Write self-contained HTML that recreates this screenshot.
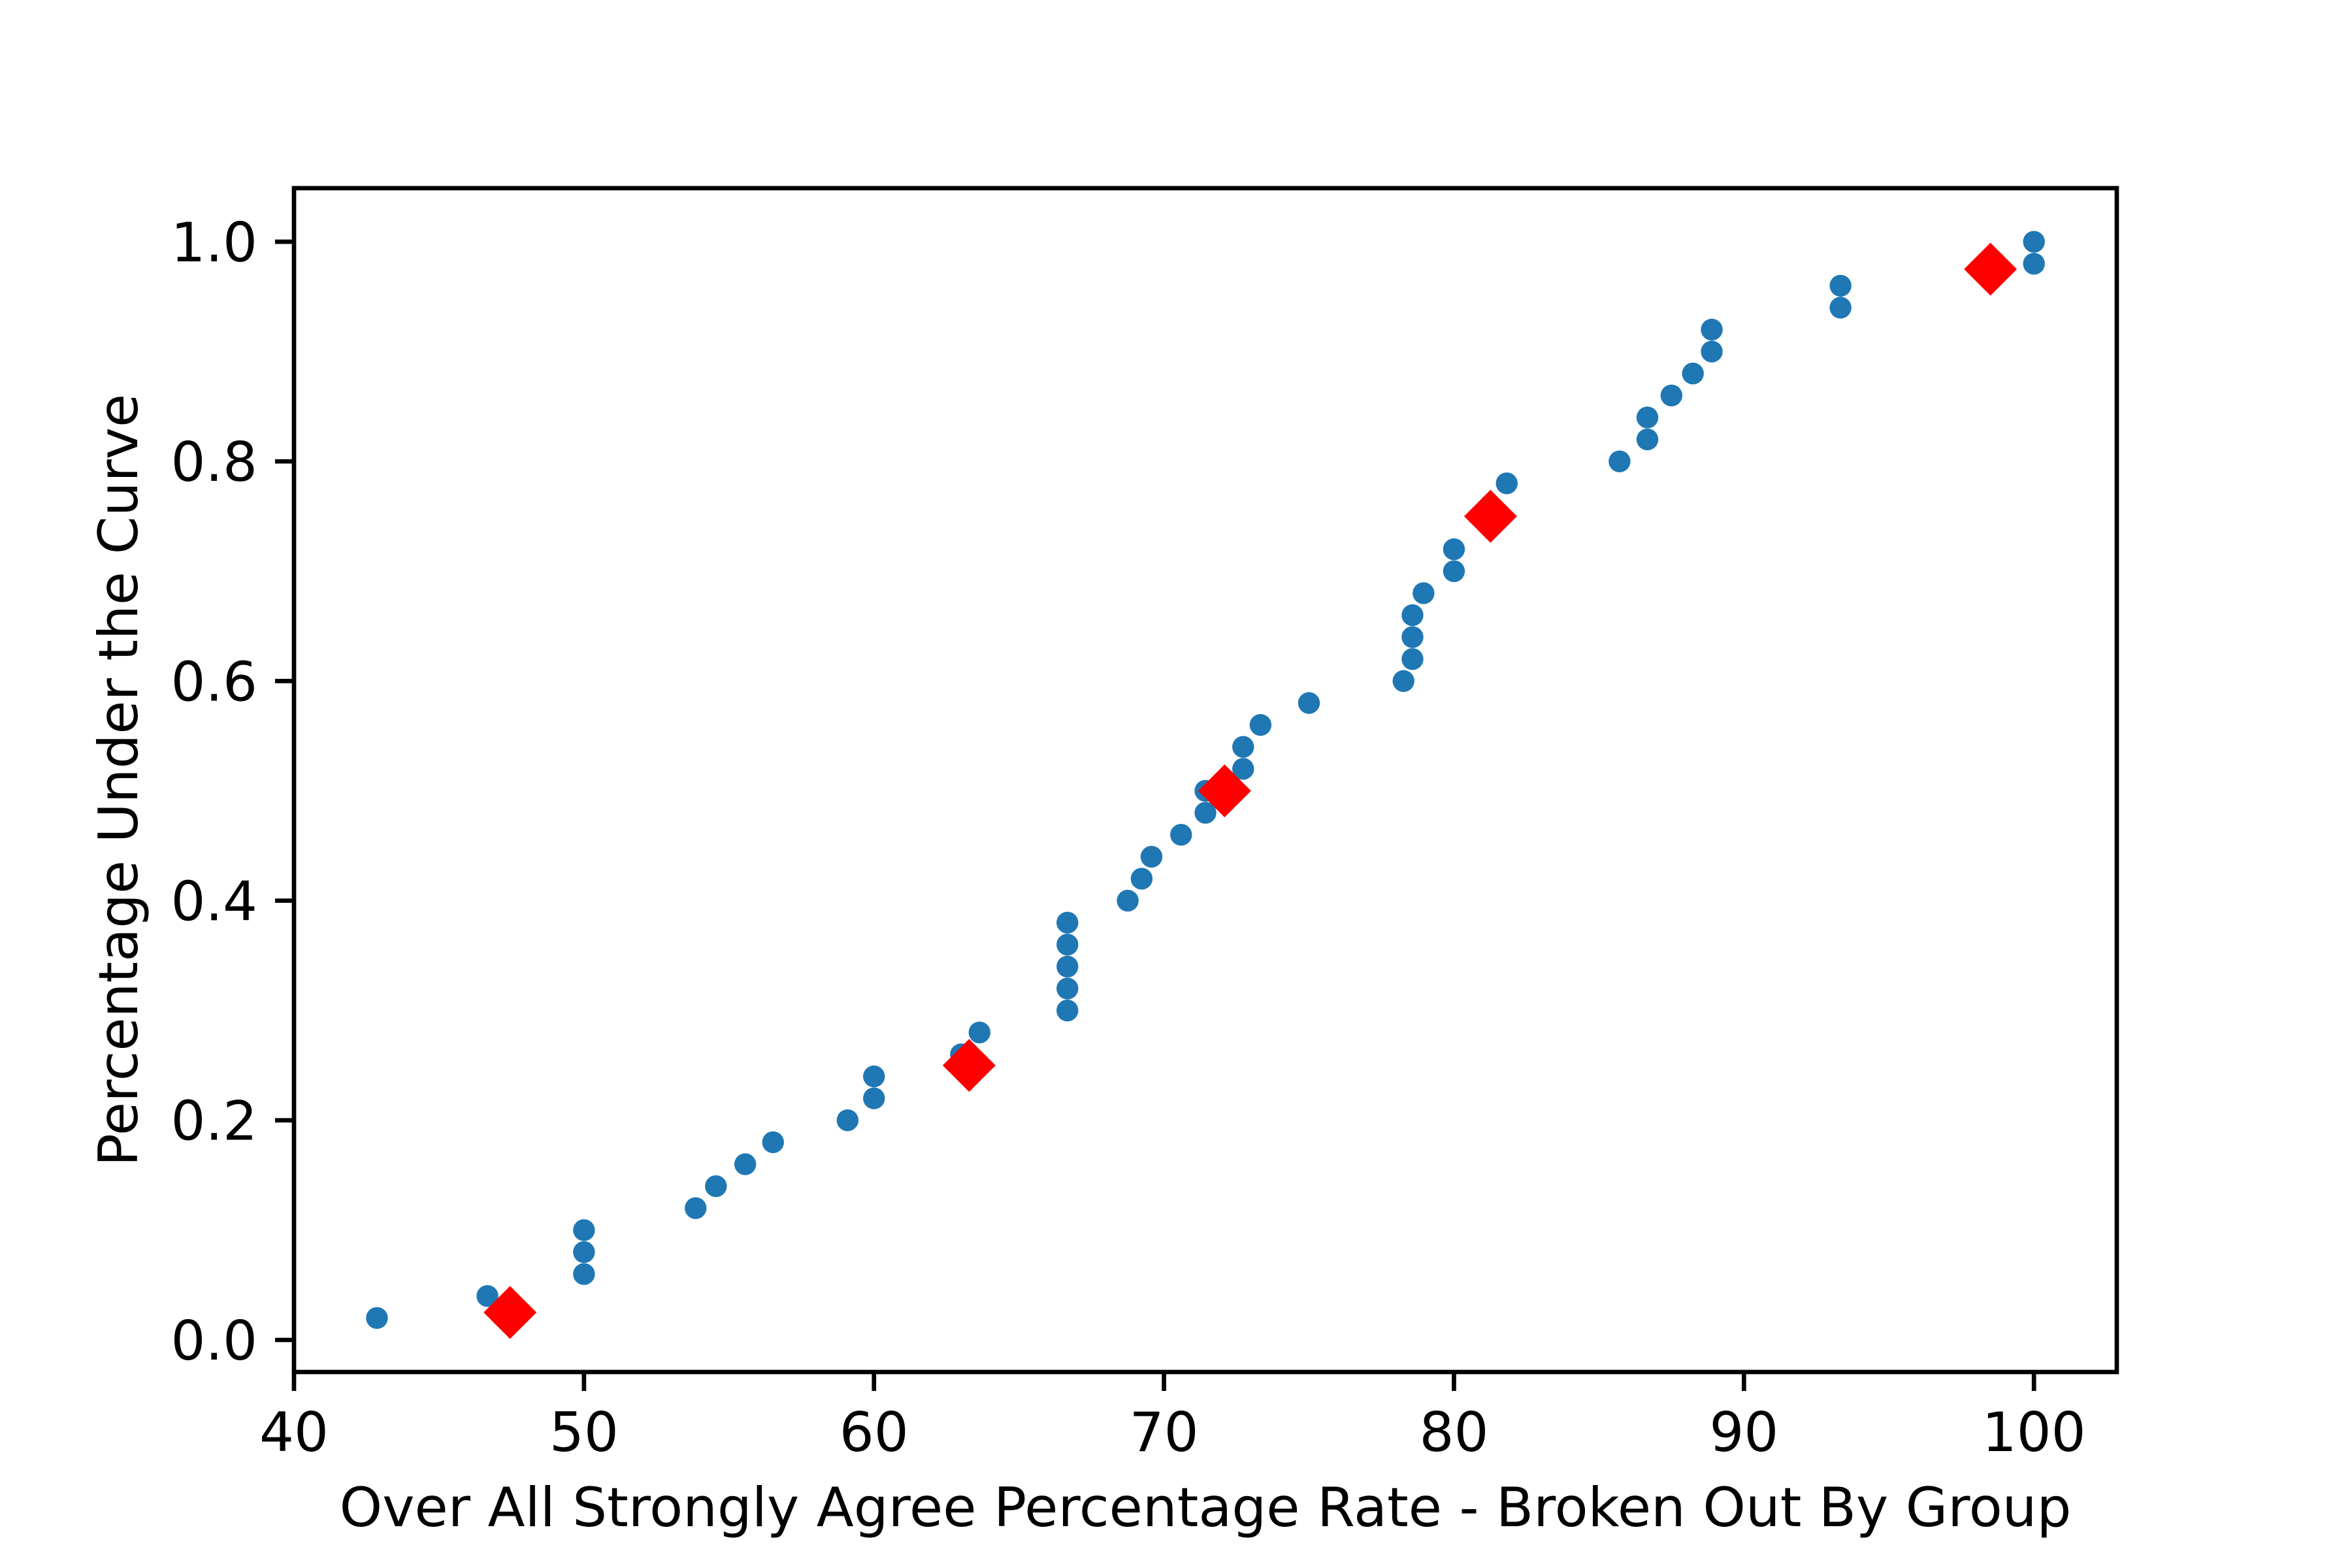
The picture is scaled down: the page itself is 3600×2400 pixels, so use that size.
<!DOCTYPE html>
<html>
<head>
<meta charset="utf-8">
<style>
html,body{margin:0;padding:0;background:#fff;}
svg{display:block;}
text{font-family:"DejaVu Sans","Liberation Sans",sans-serif;fill:#000;}
</style>
</head>
<body>
<svg id="chart" width="3600" height="2400" viewBox="0 0 3600 2400" xmlns="http://www.w3.org/2000/svg">
<rect x="0" y="0" width="3600" height="2400" fill="#fff"/>
<g id="marks"></g>
<g id="axes"></g>
<text x="1845" y="2336" font-size="83.3" text-anchor="middle">Over All Strongly Agree Percentage Rate - Broken Out By Group</text>
<text transform="translate(210,1194) rotate(-90)" font-size="83.3" text-anchor="middle">Percentage Under the Curve</text>
</svg>
<script>
const dotX = [42.86,46.67,50,50,50,53.85,54.55,55.56,56.52,59.09,60,60,63.0,63.64,66.67,66.67,66.67,66.67,66.67,68.75,69.23,69.57,70.59,71.43,71.43,72.73,72.73,73.33,75,78.26,78.57,78.57,78.57,78.95,80,80,81.25,81.25,81.82,85.71,86.67,86.67,87.5,88.24,88.89,88.89,93.33,93.33,100,100];
const dotY = [0.02,0.04,0.06,0.08,0.10,0.12,0.14,0.16,0.18,0.20,0.22,0.24,0.26,0.28,0.30,0.32,0.34,0.36,0.38,0.40,0.42,0.44,0.46,0.48,0.50,0.52,0.54,0.56,0.58,0.60,0.62,0.64,0.66,0.68,0.70,0.72,0.74,0.76,0.78,0.80,0.82,0.84,0.86,0.88,0.90,0.92,0.94,0.96,0.98,1.00];
const quantX = [47.45,63.28,72.09,81.26,98.5];
const quantY = [0.025,0.25,0.5,0.75,0.975];
const xTicks = [40,50,60,70,80,90,100];
const xTickLabels = ["40","50","60","70","80","90","100"];
const yTicks = [0,0.2,0.4,0.6,0.8,1.0];
const yTickLabels = ["0.0","0.2","0.4","0.6","0.8","1.0"];

const L=450,R=3240,T=288,B=2100;
const xMin=40.0,xMax=102.857,yMin=-0.0292,yMax=1.0488;
const NS="http://www.w3.org/2000/svg";
function xs(v){return L+(v-xMin)/(xMax-xMin)*(R-L);}
function ys(v){return B-(v-yMin)/(yMax-yMin)*(B-T);}
function mk(tag,attrs,parent){const e=document.createElementNS(NS,tag);for(const k in attrs)e.setAttribute(k,attrs[k]);parent.appendChild(e);return e;}
const marks=document.getElementById('marks');
const axes=document.getElementById('axes');

for(let i=0;i<dotX.length;i++){
  const c=mk('circle',{cx:xs(dotX[i]),cy:ys(dotY[i]),r:16.7,fill:'#1f77b4'},marks);
  
  
}
for(let i=0;i<quantX.length;i++){
  const cx=xs(quantX[i]),cy=ys(quantY[i]),h=40.5;
  const p=mk('polygon',{points:`${cx},${cy-h} ${cx+h},${cy} ${cx},${cy+h} ${cx-h},${cy}`,fill:'#ff0000'},marks);
  
  
}
for(let i=0;i<xTicks.length;i++){
  const x=xs(xTicks[i]);
  const t=mk('line',{x1:x,y1:B,x2:x,y2:B+29,stroke:'#000','stroke-width':6.7},axes);
  
  
  const lb=mk('text',{x:x,y:2221,'font-size':83.3,'text-anchor':'middle'},axes);
  lb.textContent=xTickLabels[i];
  
  
}
for(let i=0;i<yTicks.length;i++){
  const y=ys(yTicks[i]);
  const t=mk('line',{x1:L-29,y1:y,x2:L,y2:y,stroke:'#000','stroke-width':6.7},axes);
  
  
  const lb=mk('text',{x:394,y:y+30,'font-size':83.3,'text-anchor':'end'},axes);
  lb.textContent=yTickLabels[i];
  
  
}
const frame=mk('rect',{x:L,y:T,width:R-L,height:B-T,fill:'none',stroke:'#000','stroke-width':6.7},axes);


</script>
</body>
</html>
